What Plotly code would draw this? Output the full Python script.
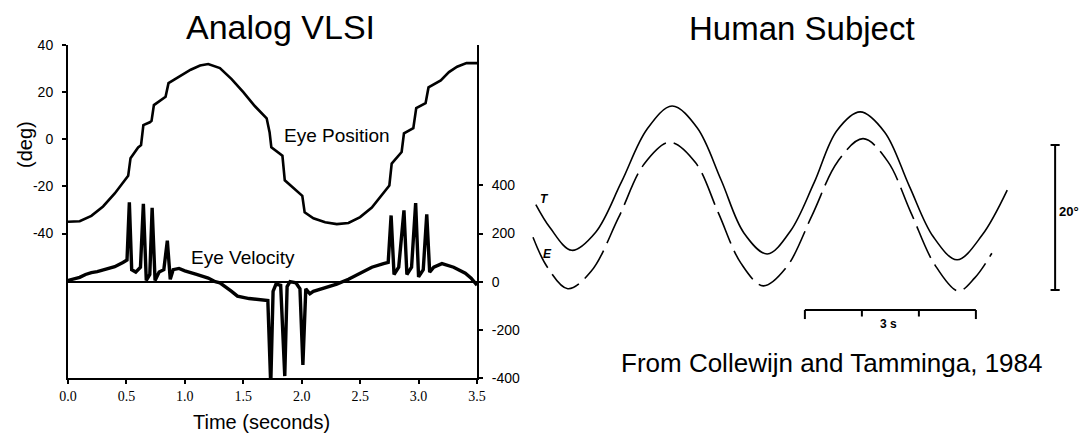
import plotly.graph_objects as go

# ---------------- Data: Analog VLSI (left panel) ----------------
pos_t = [0.00, 0.10, 0.20, 0.30, 0.40, 0.50, 0.515, 0.535, 0.60, 0.625, 0.645, 0.70, 0.715,
         0.735, 0.80, 0.835, 0.86, 0.95, 1.05, 1.13, 1.20, 1.30, 1.40, 1.50, 1.60, 1.70,
         1.725, 1.74, 1.80, 1.835, 1.855, 1.90, 1.98, 2.005, 2.025, 2.10, 2.20, 2.30, 2.40,
         2.50, 2.60, 2.70, 2.75, 2.77, 2.855, 2.875, 2.955, 2.98, 3.06, 3.085, 3.19, 3.26,
         3.33, 3.41, 3.50]
pos_deg = [-35.0, -34.8, -32.5, -28.5, -23.0, -16.5, -15.5, -8.0, -3.5, -2.5, 6.0, 7.2, 7.8,
           14.5, 17.0, 18.0, 23.8, 26.5, 29.5, 31.3, 31.9, 30.2, 25.5, 20.0, 14.0, 8.9,
           3.0, -3.4, -5.8, -7.0, -17.4, -19.5, -23.0, -24.0, -31.0, -33.5, -35.2, -36.0,
           -35.5, -33.0, -29.0, -23.0, -19.6, -10.3, -5.4, 2.5, 4.7, 13.2, 15.3, 22.0, 25.0,
           28.5, 30.8, 32.3, 32.3]

vel_t = [0.00, 0.05, 0.10, 0.15, 0.20, 0.25, 0.30, 0.35, 0.40, 0.47, 0.505, 0.525, 0.545,
         0.58, 0.62, 0.645, 0.67, 0.70, 0.72, 0.745, 0.78, 0.82, 0.85, 0.875, 0.90, 0.95,
         1.00, 1.10, 1.20, 1.26, 1.30, 1.40, 1.45, 1.55, 1.65, 1.71, 1.735, 1.755, 1.78,
         1.82, 1.855, 1.875, 1.90, 1.95, 1.985, 2.01, 2.035, 2.07, 2.10, 2.20, 2.30, 2.40,
         2.50, 2.60, 2.70, 2.74, 2.765, 2.79, 2.83, 2.875, 2.90, 2.94, 2.975, 3.00, 3.04,
         3.07, 3.095, 3.13, 3.20, 3.30, 3.40, 3.45, 3.50]
vel_dps = [5, 10, 18, 30, 38, 42, 48, 55, 62, 80, 90, 330, 50,
           40, 60, 323, 5, 30, 307, 5, 40, 50, 170, 10, 50, 55,
           45, 30, 15, 0, -5, -40, -60, -70, -75, -78, -430, -40, -10,
           -15, -392, -20, 0, -5, -30, -346, -30, -50, -40, -25, -10, 10,
           35, 60, 75, 80, 275, 30, 60, 296, 30, 60, 326, 20, 50,
           280, 40, 60, 75, 60, 35, 15, -15]

left_xticks = [0.0, 0.5, 1.0, 1.5, 2.0, 2.5, 3.0, 3.5]
left_xlabels = ["0.0", "0.5", "1.0", "1.5", "2.0", "2.5", "3.0", "3.5"]
pos_ticks = [-40, -20, 0, 20, 40]
pos_labels = ["-40", "-20", "0", "20", "40"]
vel_ticks = [-400, -200, 0, 200, 400]
vel_labels = ["-400", "-200", "0", "200", "400"]

# ---------------- Data: Human Subject (right panel) ----------------
T_t = [0.05, 0.30, 0.68, 1.10, 1.55, 2.00, 2.44, 2.88, 3.30, 3.70, 4.11, 4.52, 4.93,
       5.33, 5.74, 6.17, 6.60, 7.02, 7.44, 7.88, 8.32]
T_deg = [-3.4, -6.6, -9.7, -7.2, -0.3, 7.0, 10.2, 7.2, 0.0, -7.3, -10.2, -7.0, -0.4,
         6.8, 9.4, 6.6, -0.8, -7.8, -11.0, -7.6, -1.4]
E_t = [0.00, 0.25, 0.61, 1.02, 1.50, 1.95, 2.40, 2.85, 3.25, 3.65, 4.04, 4.45, 4.90,
       5.35, 5.79, 6.22, 6.63, 7.05, 7.46, 7.75, 8.05]
E_deg = [-7.9, -12.0, -15.0, -12.6, -5.2, 2.2, 5.2, 2.4, -4.5, -11.5, -14.6, -12.0, -4.8,
         2.6, 5.7, 2.6, -4.5, -11.7, -15.3, -13.5, -10.1]
SCALE_DEG = 20
SCALE_SEC = 3

# ---------------- Figure ----------------
W, H = 1080, 437
def px(x):
    return x / W
def py(y):
    return 1 - y / H

SANS = "Liberation Sans, Arial"
AX_FONT = dict(family=SANS, size=14, color="black")
fig = go.Figure()

fig.add_trace(go.Scatter(x=pos_t, y=pos_deg, mode="lines", xaxis="x", yaxis="y",
                         line=dict(color="black", width=2.6), showlegend=False))
fig.add_trace(go.Scatter(x=vel_t, y=vel_dps, mode="lines", xaxis="x", yaxis="y2",
                         line=dict(color="black", width=3.4), showlegend=False))
fig.add_trace(go.Scatter(x=T_t, y=T_deg, mode="lines", xaxis="x3", yaxis="y3",
                         line=dict(color="black", width=1.6, shape="spline"), showlegend=False))
fig.add_trace(go.Scatter(x=E_t, y=E_deg, mode="lines", xaxis="x3", yaxis="y3",
                         line=dict(color="black", width=1.6, shape="spline", dash="34px,8px"),
                         showlegend=False))

# right-panel coordinate system (seconds, degrees)
x3_range = [(518 - 533) / 57.0, (1080 - 533) / 57.0]
y3_range = [(180 - 437) / 7.25, 180 / 7.25]

# scale bars
bar_x = 9.16
bar_top = 4.83
h_y = -17.93
h_x0 = 4.77
shapes = [
    dict(type="line", xref="x3", yref="y3", x0=bar_x, x1=bar_x, y0=bar_top, y1=bar_top - SCALE_DEG,
         line=dict(color="black", width=2)),
    dict(type="line", xref="x3", yref="y3", x0=bar_x - 0.08, x1=bar_x + 0.08, y0=bar_top, y1=bar_top,
         line=dict(color="black", width=2)),
    dict(type="line", xref="x3", yref="y3", x0=bar_x - 0.08, x1=bar_x + 0.08,
         y0=bar_top - SCALE_DEG, y1=bar_top - SCALE_DEG, line=dict(color="black", width=2)),
    dict(type="line", xref="x3", yref="y3", x0=h_x0, x1=h_x0 + SCALE_SEC, y0=h_y, y1=h_y,
         line=dict(color="black", width=2)),
]
for k in range(SCALE_SEC + 1):
    ln = 1.25 if k in (0, SCALE_SEC) else 0.9
    shapes.append(dict(type="line", xref="x3", yref="y3", x0=h_x0 + k, x1=h_x0 + k,
                       y0=h_y, y1=h_y - ln, line=dict(color="black", width=2)))


def note(text, x, y, size, xref="paper", yref="paper", xanchor="center", angle=0):
    return dict(text=text, x=x, y=y, xref=xref, yref=yref, showarrow=False,
                xanchor=xanchor, yanchor="middle", textangle=angle,
                font=dict(family=SANS, size=size, color="black"))


annotations = [
    note("Analog VLSI", px(280), py(27), 34),
    note("Human Subject", px(802), py(28), 33),
    note("Eye Position", px(337), py(135), 19),
    note("Eye Velocity", px(243), py(257), 19),
    note("Time (seconds)", px(261), py(422), 20),
    note("(deg)", px(25), py(145), 20, angle=-90),
    note("From Collewijn and Tamminga, 1984", px(832), py(363), 26),
    note("<b><i>T</i></b>", 0.21, -2.6, 12, xref="x3", yref="y3"),
    note("<b><i>E</i></b>", 0.26, -10.2, 12, xref="x3", yref="y3"),
    note("<b>20°</b>", 9.20, -4.4, 13, xref="x3", yref="y3", xanchor="left"),
    note("<b>3 s</b>", 6.23, -19.8, 12, xref="x3", yref="y3"),
]

fig.update_layout(
    width=W, height=H, margin=dict(l=0, r=0, t=0, b=0, pad=0, autoexpand=False),
    paper_bgcolor="white", plot_bgcolor="rgba(0,0,0,0)", showlegend=False,
    xaxis=dict(domain=[px(68), px(477)], range=[0, 3.5], tickvals=left_xticks,
               ticktext=left_xlabels, showline=True, linewidth=2, linecolor="black",
               ticks="outside", ticklen=4, tickwidth=2, tickcolor="black",
               showgrid=False, zeroline=False, anchor="y", automargin=False,
               tickfont=dict(family="Liberation Serif, Times New Roman", size=14, color="black")),
    yaxis=dict(domain=[py(378), py(45)], range=[-101.3, 40], tickvals=pos_ticks,
               ticktext=pos_labels,
               showline=True, linewidth=2, linecolor="black", ticks="outside", ticklen=4,
               tickwidth=2, tickcolor="black", showgrid=False, zeroline=False, automargin=False,
               anchor="x", ticklabelstandoff=6, tickfont=AX_FONT),
    yaxis2=dict(overlaying="y", side="right", anchor="x", range=[-400, 983],
                tickvals=vel_ticks, ticktext=vel_labels, showline=True, linewidth=2,
                linecolor="black",
                ticks="outside", ticklen=4, tickwidth=2, tickcolor="black", showgrid=False,
                zeroline=True, zerolinecolor="black", zerolinewidth=1.5, automargin=False,
                ticklabelstandoff=6, tickfont=AX_FONT),
    xaxis3=dict(domain=[px(518), 1.0], range=x3_range, visible=False, anchor="y3"),
    yaxis3=dict(domain=[0, 1], range=y3_range, visible=False, anchor="x3"),
    shapes=shapes,
    annotations=annotations,
)

fig.write_html("out.html", config={"displayModeBar": False},
               post_script="document.body.style.margin='0';document.body.style.padding='0';")
